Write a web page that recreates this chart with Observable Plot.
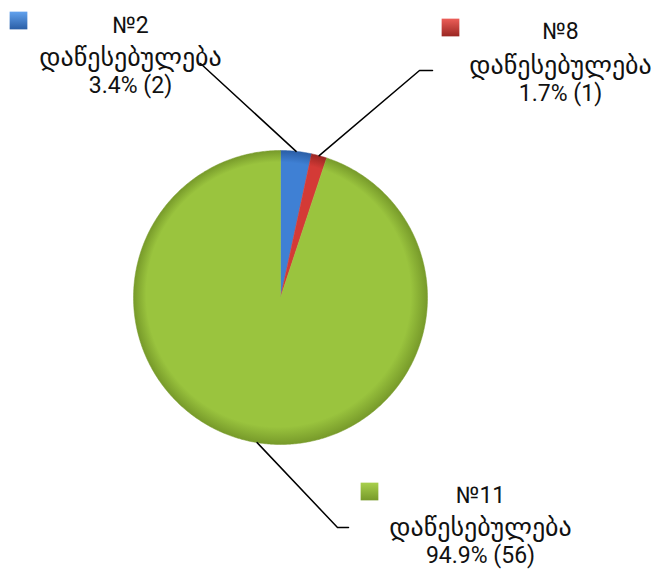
<!DOCTYPE html>
<html><head><meta charset="utf-8">
<script src="https://cdn.jsdelivr.net/npm/d3@7"></script>
<script src="https://cdn.jsdelivr.net/npm/@observablehq/plot@0.6"></script>
<style>body{margin:0;background:#fff}</style>
</head><body><div id="chart"></div>
<script>
// ---- data ----
const names = ["№2", "№8", "№11"];
const unitWord = "დაწესებულება";
const counts = [2, 1, 56];
const percents = ["3.4%", "1.7%", "94.9%"];
const colors = [["#62a2ee", "#3f80d4", "#2a5ea6"], ["#ec5e58", "#d43a36", "#9a2622"], ["#a8d04c", "#9ac43e", "#779a2a"]];

// ---- layout (pixels) ----
const W = 659, H = 573;
const cx = 280, cy = 297, R = 147;
const labelX = [130, 560, 480];
const nameBase = [32, 38, 502];
const wordBase = [65, 73, 535];
const numBase = [92, 100, 562];
const elbowX = [200, 419, 337];
const elbowY = [63, 70, 527];
const tailX = [200, 432, 348];
const markerX = [18, 450, 369];
const markerY = [20, 27, 491];

const pie = d3.pie().sort(null).value(d => d)(counts);

const slices = pie.map((p, i) => {
  const pts = [[cx, cy]];
  const n = Math.max(4, Math.ceil((p.endAngle - p.startAngle) / 0.01));
  for (let k = 0; k <= n; k++) {
    const a = p.startAngle + (p.endAngle - p.startAngle) * k / n;
    pts.push([cx + R * Math.sin(a), cy - R * Math.cos(a)]);
  }
  pts.push([cx, cy]);
  return pts.map(([x, y]) => ({x, y, i}));
});

const leaders = pie.flatMap((p, i) => {
  const a = (p.startAngle + p.endAngle) / 2;
  return [
    {x: cx + R * Math.sin(a), y: cy - R * Math.cos(a), i},
    {x: elbowX[i], y: elbowY[i], i},
    {x: tailX[i], y: elbowY[i], i}
  ];
});

const labels = names.map((n, i) => ({
  x: labelX[i], yName: nameBase[i], yWord: wordBase[i], yNum: numBase[i],
  name: n, word: unitWord, num: `${percents[i]} (${counts[i]})`
}));
const markers = names.map((n, i) => ({x: markerX[i], y: markerY[i], i}));

const marks = [];
slices.forEach((s, i) => {
  marks.push(Plot.line(s, {x: "x", y: "y", fill: `url(#g${i})`, stroke: `url(#g${i})`, strokeWidth: 0.5, curve: "linear"}));
});
marks.push(Plot.line(leaders, {x: "x", y: "y", z: "i", stroke: "#000", strokeWidth: 1.5}));
marks.push(Plot.dot(markers, {x: "x", y: "y", symbol: "square", r: 10, fill: d => `url(#m${d.i})`, stroke: null}));
marks.push(Plot.text(labels, {x: "x", y: "yName", text: "name", lineAnchor: "bottom", textAnchor: "middle", fontSize: 23, fill: "#111"}));
marks.push(Plot.text(labels, {x: "x", y: "yWord", text: "word", lineAnchor: "bottom", textAnchor: "middle", fontSize: 26, fill: "#111"}));
marks.push(Plot.text(labels, {x: "x", y: "yNum", text: "num", lineAnchor: "bottom", textAnchor: "middle", fontSize: 23, fill: "#111"}));

const chart = Plot.plot({
  width: W, height: H, margin: 0,
  x: {domain: [0, W], range: [0, W], axis: null},
  y: {domain: [0, H], range: [0, H], axis: null},
  style: {fontFamily: "Roboto, 'DejaVu Sans', sans-serif", background: "#fff"},
  marks
});

const svg = d3.select(chart);
const defs = svg.insert("defs", ":first-child");
colors.forEach((c, i) => {
  const g = defs.append("radialGradient").attr("id", `g${i}`)
    .attr("gradientUnits", "userSpaceOnUse").attr("cx", cx).attr("cy", cy).attr("r", R)
    .attr("fx", cx - 20).attr("fy", cy - 30);
  g.append("stop").attr("offset", "0%").attr("stop-color", c[1]);
  g.append("stop").attr("offset", "90%").attr("stop-color", c[1]);
  g.append("stop").attr("offset", "100%").attr("stop-color", c[2]);
  const m = defs.append("linearGradient").attr("id", `m${i}`).attr("x1", 0).attr("y1", 0).attr("x2", 0).attr("y2", 1);
  m.append("stop").attr("offset", "0%").attr("stop-color", c[0]);
  m.append("stop").attr("offset", "100%").attr("stop-color", c[2]);
});
svg.selectAll("text").style("font-family", "Roboto, 'DejaVu Sans', sans-serif");
document.getElementById("chart").appendChild(chart);
</script>
</body></html>
